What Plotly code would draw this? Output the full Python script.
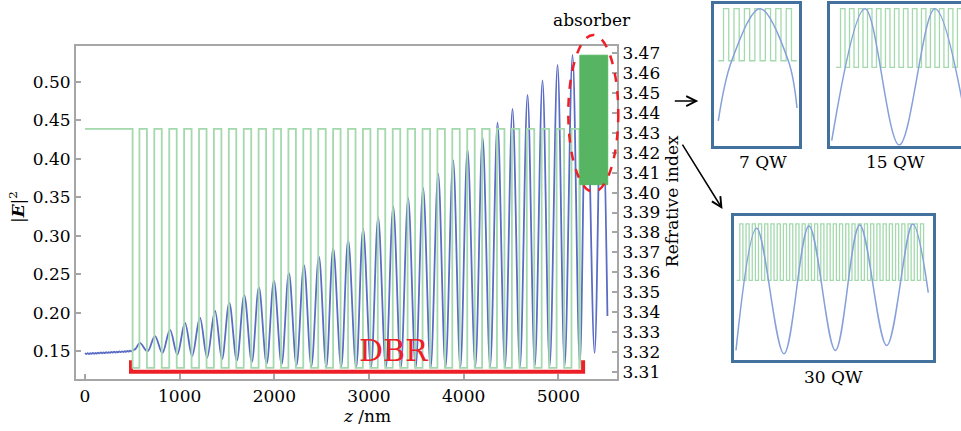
import plotly.graph_objects as go

SERIF = "DejaVu Serif"

# ---------------- layer stack (refractive index vs z, nm) ----------------
n_high = 3.432          # high-index DBR layer / substrate
n_low = 3.312           # low-index DBR layer
n_well = 3.469          # absorber quantum wells
n_barrier = 3.404       # absorber barriers

# interfaces of the DBR: first switches to low index, then alternates
dbr_interfaces_nm = [503, 575, 654, 732, 811, 890, 969, 1047, 1126, 1205, 1284,
                     1362, 1441, 1519, 1598, 1677, 1756, 1834, 1913, 1992, 2071,
                     2149, 2228, 2306, 2385, 2464, 2543, 2621, 2700, 2779, 2858,
                     2936, 3015, 3093, 3172, 3251, 3330, 3408, 3487, 3566, 3645,
                     3723, 3802, 3880, 3959, 4038, 4117, 4195, 4274, 4352, 4431,
                     4510, 4589, 4667, 4746, 4824, 4903, 4982, 5061, 5139, 5222]
absorber_start_nm = 5228
absorber_end_nm = 5522

# ---------------- |E|^2 along z ----------------
substrate_z = [0, 14, 28, 42, 56, 70, 84, 98, 112, 126, 140, 154, 168, 182, 196,
               210, 224, 238, 252, 266, 280, 294, 308, 322, 336, 350, 364, 378,
               392, 406, 420, 434, 448, 462, 476, 490, 503, 535]
substrate_E = [0.1480, 0.1466, 0.1477, 0.1466, 0.1478, 0.1468, 0.1480, 0.1470,
               0.1482, 0.1472, 0.1484, 0.1474, 0.1486, 0.1476, 0.1488, 0.1478,
               0.1490, 0.1480, 0.1492, 0.1482, 0.1494, 0.1484, 0.1496, 0.1486,
               0.1498, 0.1488, 0.1500, 0.1490, 0.1502, 0.1492, 0.1504, 0.1494,
               0.1506, 0.1497, 0.1509, 0.1500, 0.1512, 0.1535]
peak_z = [580, 739, 898, 1056, 1214, 1373, 1524, 1682, 1837, 1996, 2154, 2313,
          2471, 2622, 2780, 2938, 3097, 3256, 3414, 3572, 3731, 3889, 4041, 4200,
          4358, 4516, 4675, 4833, 4992, 5150, 5297, 5456]
peak_E = [0.161, 0.170, 0.178, 0.187, 0.194, 0.203, 0.213, 0.223, 0.233, 0.242,
          0.252, 0.262, 0.273, 0.284, 0.295, 0.309, 0.324, 0.338, 0.349, 0.362,
          0.381, 0.398, 0.412, 0.428, 0.447, 0.465, 0.483, 0.502, 0.522, 0.535,
          0.533, 0.529]
trough_z = [660, 817, 975, 1132, 1290, 1447, 1604, 1762, 1919, 2077, 2234, 2391,
            2549, 2706, 2864, 3021, 3178, 3336, 3493, 3651, 3808, 3965, 4123,
            4280, 4437, 4595, 4752, 4909, 5067, 5227, 5383, 5519]
trough_E = [0.150, 0.148, 0.146, 0.144, 0.142, 0.140, 0.138, 0.136, 0.134, 0.133,
            0.132, 0.131, 0.130, 0.130, 0.129, 0.129, 0.129, 0.129, 0.129, 0.129,
            0.129, 0.129, 0.130, 0.130, 0.130, 0.130, 0.131, 0.131, 0.131, 0.134,
            0.148, 0.196]

# DBR bracket (z extent and |E|^2 levels of the bracket)
dbr_bracket_z = [486, 5262]
dbr_bracket_levels = [0.1384, 0.1235]

# ---------------- insets: absorber close-ups ----------------
inset_qw_counts = [7, 15, 30]
inset_labels = ["7 QW", "15 QW", "30 QW"]
inset_index_levels = [(0.598, 0.965), (0.551, 0.965), (0.554, 0.945)]
inset_field_z = [
    [0, 1.28, 3.99, 6.7, 7.53],
    [-0.48, 3.22, 7.03, 11.0, 14.9],
    [-0.11, 3.21, 7.59, 11.6, 15.84, 19.74, 24.08, 28.25, 30.75],
]
inset_field_E = [
    [0.174, 0.598, 0.965, 0.598, 0.265],
    [0.035, 0.965, 0.005, 0.965, 0.005],
    [0.069, 0.916, 0.046, 0.931, 0.069, 0.938, 0.103, 0.945, 0.469],
]
inset_ranges = [(-0.41, 7.75), (-0.67, 13.9), (-0.43, 31.46)]

GREEN = "#a3d9ad"
BLUE = "#5a6cc4"
INSET_BLUE = "#86a0da"
FRAME = "#a6a6a6"
BOX = "#41719c"
RED = "#ee2027"

fig = go.Figure()

# refractive-index step profile
z_n = [0] + dbr_interfaces_nm + [absorber_start_nm]
n_vals = [n_high] + [n_low if i % 2 == 0 else n_high for i in range(len(dbr_interfaces_nm))] + [n_barrier]
fig.add_trace(go.Scatter(x=z_n, y=n_vals, yaxis="y2", mode="lines",
                         line=dict(color=GREEN, width=1.8, shape="hv"),
                         hoverinfo="skip", showlegend=False))
# absorber band
fig.add_trace(go.Scatter(x=[absorber_start_nm, absorber_start_nm, absorber_end_nm, absorber_end_nm, absorber_start_nm],
                         y=[n_barrier, n_well, n_well, n_barrier, n_barrier], yaxis="y2",
                         mode="lines", fill="toself", fillcolor="#56b463",
                         line=dict(color="#56b463", width=1), hoverinfo="skip", showlegend=False))

# |E|^2 curve
pts = sorted(list(zip(substrate_z, substrate_E)) + list(zip(peak_z, peak_E)) + list(zip(trough_z, trough_E)))
fig.add_trace(go.Scatter(x=[p[0] for p in pts], y=[p[1] for p in pts], mode="lines",
                         line=dict(color=BLUE, width=1.8, shape="spline", smoothing=1.0),
                         hoverinfo="skip", showlegend=False))

# DBR bracket
fig.add_trace(go.Scatter(x=[dbr_bracket_z[0], dbr_bracket_z[0], dbr_bracket_z[1], dbr_bracket_z[1]],
                         y=[dbr_bracket_levels[0], dbr_bracket_levels[1], dbr_bracket_levels[1], dbr_bracket_levels[0]],
                         mode="lines", line=dict(color=RED, width=4), hoverinfo="skip", showlegend=False))

# insets
for k, nq in enumerate(inset_qw_counts):
    lo, hi = inset_index_levels[k]
    xs, ys = [0.0], [lo]
    for w in range(nq):
        xs += [w + 0.5, w + 1.0]
        ys += [hi, lo]
    xs.append(nq + 0.5)
    ys.append(lo)
    ax = str(k + 3)
    fig.add_trace(go.Scatter(x=xs, y=ys, xaxis="x" + ax, yaxis="y" + ax, mode="lines",
                             line=dict(color=GREEN, width=1.3, shape="hv"),
                             hoverinfo="skip", showlegend=False))
    fig.add_trace(go.Scatter(x=inset_field_z[k], y=inset_field_E[k], xaxis="x" + ax, yaxis="y" + ax,
                             mode="lines", line=dict(color=INSET_BLUE, width=1.5, shape="spline"),
                             hoverinfo="skip", showlegend=False))

W, H = 961, 431
def px(x):
    return x / W
def py(y):
    return (H - y) / H

tickfont = dict(family=SERIF, size=17, color="black")
layout = dict(
    width=W, height=H, margin=dict(l=0, r=0, t=0, b=0),
    paper_bgcolor="white", plot_bgcolor="white",
    xaxis=dict(domain=[px(76), px(617)], range=[-95, 5620], tickvals=[0, 1000, 2000, 3000, 4000, 5000],
               ticks="inside", ticklen=5, tickcolor=FRAME, tickwidth=1.5,
               showline=True, linecolor=FRAME, linewidth=2, mirror=True,
               showgrid=False, zeroline=False, tickfont=tickfont, anchor="y"),
    yaxis=dict(domain=[py(381), py(44)], range=[0.1136, 0.5472], tick0=0.15, dtick=0.05,
               tickformat=".2f", ticks="inside", ticklen=5, tickcolor=FRAME, tickwidth=1.5,
               showline=True, linecolor=FRAME, linewidth=2,
               showgrid=False, zeroline=False, tickfont=tickfont, anchor="x"),
    yaxis2=dict(overlaying="y", side="right", anchor="x", range=[3.30617, 3.47383],
                tick0=3.31, dtick=0.01, tickformat=".2f", ticks="inside", ticklen=5,
                tickcolor=FRAME, tickwidth=1.5, showline=True, linecolor=FRAME, linewidth=2,
                showgrid=False, zeroline=False, tickfont=tickfont),
)
inset_domains = [
    ([px(714), px(799.3)], [py(145), py(1.7)]),
    ([px(830), 1.0], [py(145), py(1.7)]),
    ([px(734), px(932.7)], [py(361.7), py(216)]),
]
for k in range(3):
    n = str(k + 3)
    xd, yd = inset_domains[k]
    layout["xaxis" + n] = dict(domain=xd, range=list(inset_ranges[k]), anchor="y" + n,
                               showline=True, linecolor=BOX, linewidth=2.5, mirror=True,
                               showticklabels=False, ticks="", showgrid=False, zeroline=False)
    layout["yaxis" + n] = dict(domain=yd, range=[0, 1], anchor="x" + n,
                               showline=True, linecolor=BOX, linewidth=2.5, mirror=(k != 1),
                               showticklabels=False, ticks="", showgrid=False, zeroline=False)
fig.update_layout(**layout)

def label(text, x, y, size=17, color="black", angle=0):
    fig.add_annotation(text=text, x=px(x), y=py(y), xref="paper", yref="paper",
                       showarrow=False, textangle=angle, xanchor="center", yanchor="middle",
                       font=dict(family=SERIF, size=size, color=color))

label("absorber", 591.7, 18.3)
label("|<b><i>E</i></b>|<sup>2</sup>", 17, 207, angle=-90)
label("Refrative index", 672, 201, angle=-90)
label("<i>z</i> /nm", 366.7, 418.3)
label("DBR", 394, 351.7, size=30, color=RED)
label(inset_labels[0], 763.3, 161.7)
label(inset_labels[1], 895, 161.7)
label(inset_labels[2], 833.3, 378.3)

# dashed ellipse around the absorber
fig.add_shape(type="circle", xref="paper", yref="paper",
              x0=px(568.3), x1=px(618.3), y0=py(191.7), y1=py(33.3),
              line=dict(color=RED, width=2.5, dash="dash"))

# pointer arrows toward the close-ups
fig.add_annotation(x=px(698.3), y=py(100), xref="paper", yref="paper", text="",
                   showarrow=True, ax=-25, ay=0, arrowhead=5, arrowsize=1.3,
                   arrowwidth=1.5, arrowcolor="black")
fig.add_annotation(x=px(722.5), y=py(209), xref="paper", yref="paper", text="",
                   showarrow=True, ax=-41, ay=-66, arrowhead=5, arrowsize=1.3,
                   arrowwidth=1.5, arrowcolor="black")

fig.write_html("out.html")
